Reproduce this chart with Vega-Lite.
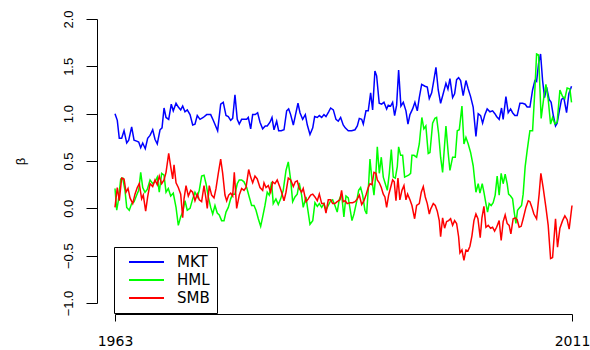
{
"$schema": "https://vega.github.io/schema/vega-lite/v6.json",
"autosize": "none",
"width": 457,
"height": 284,
"padding": {"left": 115, "top": 19, "right": 18, "bottom": 47},
"background": "white",
"config": {"view": {"stroke": null}},
"datasets": {
"MKT": [[1963.00,1.00],[1963.24,0.93],[1963.45,0.74],[1963.70,0.74],[1963.95,0.82],[1964.23,0.69],[1964.44,0.72],[1964.75,0.86],[1965.00,0.72],[1965.28,0.71],[1965.49,0.70],[1965.70,0.64],[1965.91,0.69],[1966.18,0.63],[1966.43,0.74],[1966.68,0.77],[1966.96,0.83],[1967.20,0.73],[1967.44,0.68],[1967.73,0.83],[1967.94,0.85],[1968.15,1.06],[1968.36,0.96],[1968.64,0.94],[1968.91,1.10],[1969.12,1.03],[1969.41,1.11],[1969.65,1.07],[1969.90,1.04],[1970.11,1.08],[1970.35,1.02],[1970.59,1.04],[1970.88,0.99],[1971.16,0.88],[1971.40,0.89],[1971.64,0.98],[1971.93,0.94],[1972.27,0.96],[1972.63,0.99],[1973.05,0.99],[1973.32,0.93],[1973.78,0.82],[1974.10,1.10],[1974.37,1.12],[1974.66,0.98],[1974.90,0.97],[1975.15,0.93],[1975.36,0.95],[1975.60,1.20],[1975.84,0.94],[1976.05,0.89],[1976.30,0.94],[1976.55,0.94],[1976.83,0.94],[1977.00,0.96],[1977.25,0.84],[1977.46,0.99],[1977.73,0.99],[1977.98,1.01],[1978.23,0.91],[1978.51,0.84],[1978.78,0.87],[1978.99,0.87],[1979.28,0.91],[1979.49,0.96],[1979.70,0.83],[1979.98,0.92],[1980.19,0.82],[1980.46,0.82],[1980.75,0.83],[1981.03,1.03],[1981.24,1.05],[1981.45,0.99],[1981.73,0.88],[1981.94,0.98],[1982.22,1.11],[1982.43,1.01],[1982.71,0.94],[1982.99,0.99],[1983.20,0.88],[1983.48,0.78],[1983.77,0.85],[1983.97,0.97],[1984.25,0.96],[1984.46,0.98],[1984.71,0.96],[1984.95,0.99],[1985.16,0.97],[1985.44,1.02],[1985.65,1.06],[1985.93,1.04],[1986.21,0.94],[1986.45,0.92],[1986.70,0.96],[1986.97,0.88],[1987.18,0.85],[1987.50,0.82],[1987.86,0.82],[1988.21,0.83],[1988.45,0.87],[1988.66,0.95],[1988.91,0.94],[1989.08,0.89],[1989.36,1.03],[1989.60,1.03],[1989.85,1.22],[1990.06,1.04],[1990.30,1.45],[1990.48,1.40],[1990.75,1.11],[1991.00,1.10],[1991.25,1.12],[1991.53,1.05],[1991.70,1.09],[1991.95,1.08],[1992.16,1.12],[1992.37,0.98],[1992.58,1.09],[1992.79,1.46],[1993.03,1.08],[1993.28,1.12],[1993.56,1.03],[1993.77,0.89],[1993.98,0.99],[1994.26,1.05],[1994.50,1.12],[1994.75,1.03],[1994.96,1.17],[1995.21,1.31],[1995.56,1.29],[1995.80,1.28],[1996.01,1.16],[1996.26,1.22],[1996.50,1.36],[1996.71,1.49],[1996.95,1.25],[1997.20,1.11],[1997.47,1.21],[1997.76,1.32],[1997.97,1.26],[1998.18,1.37],[1998.46,1.17],[1998.67,1.21],[1998.88,1.36],[1999.09,1.38],[1999.30,1.35],[1999.57,1.19],[1999.86,1.35],[2000.10,1.26],[2000.35,1.18],[2000.62,1.07],[2000.91,0.76],[2001.15,1.00],[2001.40,0.98],[2001.61,0.90],[2001.85,0.99],[2002.09,1.05],[2002.38,1.02],[2002.66,1.03],[2002.90,1.00],[2003.08,0.97],[2003.35,0.94],[2003.60,1.06],[2003.77,0.94],[2004.06,1.18],[2004.30,1.01],[2004.55,1.05],[2004.76,1.01],[2005.00,0.98],[2005.24,0.98],[2005.53,1.11],[2005.81,1.11],[2006.08,1.10],[2006.29,1.07],[2006.58,1.07],[2006.86,1.25],[2007.10,1.35],[2007.28,1.34],[2007.49,1.53],[2007.70,1.63],[2007.91,1.35],[2008.12,1.17],[2008.33,1.28],[2008.60,1.15],[2008.81,1.12],[2009.02,0.99],[2009.27,0.87],[2009.44,0.90],[2009.65,1.02],[2009.90,1.15],[2010.14,1.17],[2010.43,1.01],[2010.67,1.21],[2010.95,1.29]],
"HML": [[1963.00,0.21],[1963.18,-0.02],[1963.35,0.08],[1963.60,0.31],[1963.81,0.32],[1964.05,0.19],[1964.23,0.01],[1964.50,-0.02],[1964.75,0.05],[1965.00,0.07],[1965.28,0.14],[1965.49,0.19],[1965.70,0.38],[1965.91,0.22],[1966.15,0.17],[1966.39,0.20],[1966.68,0.30],[1966.96,0.26],[1967.20,0.28],[1967.44,0.33],[1967.65,0.17],[1967.90,0.37],[1968.15,0.35],[1968.36,0.17],[1968.60,0.21],[1968.85,0.13],[1969.12,0.16],[1969.41,0.01],[1969.65,-0.18],[1969.90,-0.09],[1970.11,-0.04],[1970.35,0.08],[1970.59,-0.02],[1970.88,0.00],[1971.16,0.10],[1971.40,0.17],[1971.64,0.12],[1971.85,0.19],[1972.10,0.34],[1972.35,0.35],[1972.56,0.26],[1972.80,0.12],[1973.05,0.01],[1973.26,-0.06],[1973.50,0.03],[1973.74,-0.05],[1973.95,-0.07],[1974.20,-0.13],[1974.45,-0.13],[1974.66,-0.04],[1974.90,0.01],[1975.15,0.10],[1975.36,0.15],[1975.60,0.15],[1975.84,0.26],[1976.05,0.30],[1976.30,0.30],[1976.55,0.28],[1976.83,0.22],[1977.10,0.12],[1977.35,0.03],[1977.60,0.03],[1977.81,-0.02],[1978.05,-0.11],[1978.30,-0.19],[1978.51,-0.09],[1978.75,0.03],[1978.99,0.17],[1979.20,0.14],[1979.45,0.28],[1979.62,0.05],[1979.90,0.10],[1980.15,0.04],[1980.40,0.10],[1980.67,0.19],[1980.96,0.40],[1981.20,0.49],[1981.45,0.30],[1981.66,0.07],[1981.90,0.12],[1982.14,0.15],[1982.35,0.27],[1982.60,0.14],[1982.77,0.01],[1983.06,0.12],[1983.23,0.00],[1983.48,-0.17],[1983.77,-0.13],[1984.00,0.06],[1984.25,0.02],[1984.46,0.05],[1984.71,0.01],[1984.95,0.05],[1985.16,-0.02],[1985.40,0.03],[1985.65,0.08],[1985.86,0.09],[1986.10,0.03],[1986.34,-0.04],[1986.55,0.09],[1986.80,0.15],[1987.04,-0.09],[1987.26,0.13],[1987.50,0.11],[1987.68,0.00],[1987.89,-0.13],[1988.10,-0.06],[1988.38,0.07],[1988.59,0.19],[1988.80,0.22],[1989.01,0.14],[1989.25,-0.02],[1989.43,-0.06],[1989.64,0.26],[1989.78,0.52],[1989.99,0.30],[1990.20,0.14],[1990.41,0.38],[1990.55,0.65],[1990.76,0.37],[1990.97,0.54],[1991.18,0.33],[1991.39,0.26],[1991.60,0.19],[1991.81,0.37],[1992.02,0.62],[1992.23,0.33],[1992.44,0.32],[1992.65,0.44],[1992.79,0.65],[1993.00,0.56],[1993.21,0.56],[1993.42,0.33],[1993.63,0.34],[1993.84,0.35],[1994.05,0.37],[1994.19,0.56],[1994.40,0.56],[1994.68,0.54],[1994.96,0.68],[1995.23,0.96],[1995.44,0.84],[1995.65,0.87],[1995.90,0.58],[1996.08,0.59],[1996.36,0.90],[1996.60,0.95],[1996.78,0.96],[1996.99,0.79],[1997.20,0.54],[1997.41,0.38],[1997.76,0.87],[1998.00,0.58],[1998.18,0.40],[1998.46,0.54],[1998.74,0.54],[1998.95,0.82],[1999.16,0.83],[1999.44,1.08],[1999.65,0.68],[1999.86,0.75],[2000.10,0.68],[2000.35,0.59],[2000.62,0.45],[2000.91,0.17],[2001.15,0.26],[2001.33,0.16],[2001.57,0.26],[2001.75,0.17],[2001.96,0.05],[2002.13,-0.04],[2002.30,0.05],[2002.51,0.03],[2002.72,0.06],[2002.93,0.14],[2003.14,0.34],[2003.35,0.14],[2003.56,0.37],[2003.77,0.26],[2003.98,0.36],[2004.19,0.26],[2004.34,0.15],[2004.55,0.13],[2004.76,0.10],[2004.93,-0.04],[2005.11,-0.16],[2005.28,-0.02],[2005.45,0.00],[2005.70,0.03],[2005.87,0.15],[2006.08,0.44],[2006.29,0.61],[2006.44,0.72],[2006.58,0.82],[2006.86,0.82],[2007.10,1.25],[2007.28,1.63],[2007.49,1.62],[2007.76,0.95],[2008.05,1.18],[2008.26,1.31],[2008.50,1.15],[2008.75,0.89],[2008.96,0.96],[2009.20,0.89],[2009.44,0.91],[2009.73,1.25],[2010.01,1.18],[2010.25,1.16],[2010.49,1.27],[2010.78,1.26],[2010.95,1.12]],
"SMB": [[1963.00,0.01],[1963.24,0.22],[1963.45,0.08],[1963.70,0.32],[1963.95,0.31],[1964.16,0.17],[1964.37,0.21],[1964.58,0.11],[1964.86,0.05],[1965.10,0.15],[1965.34,0.22],[1965.55,0.26],[1965.80,0.10],[1965.97,0.14],[1966.22,-0.03],[1966.43,0.12],[1966.68,0.26],[1966.96,0.23],[1967.20,0.30],[1967.44,0.25],[1967.65,0.34],[1967.90,0.26],[1968.15,0.30],[1968.36,0.38],[1968.64,0.58],[1968.85,0.44],[1969.06,0.31],[1969.20,0.46],[1969.41,0.27],[1969.65,0.22],[1969.90,0.15],[1970.11,-0.10],[1970.25,0.10],[1970.46,0.24],[1970.70,0.13],[1970.95,0.19],[1971.16,0.17],[1971.40,0.08],[1971.64,0.15],[1971.85,0.09],[1972.10,0.07],[1972.35,0.24],[1972.56,0.10],[1972.69,0.00],[1972.90,0.24],[1973.15,0.14],[1973.40,0.11],[1973.61,0.21],[1973.85,0.37],[1974.10,0.52],[1974.31,0.37],[1974.55,0.14],[1974.73,0.08],[1974.94,0.14],[1975.15,0.16],[1975.36,0.13],[1975.53,0.38],[1975.78,0.00],[1976.05,0.14],[1976.30,0.21],[1976.55,0.19],[1976.76,0.22],[1977.04,0.41],[1977.25,0.33],[1977.46,0.27],[1977.70,0.34],[1977.94,0.31],[1978.23,0.22],[1978.51,0.19],[1978.65,0.27],[1978.86,0.22],[1979.10,0.24],[1979.35,0.17],[1979.56,0.28],[1979.80,0.26],[1980.04,0.30],[1980.33,0.22],[1980.50,0.17],[1980.75,0.08],[1980.96,0.17],[1981.20,0.32],[1981.45,0.30],[1981.73,0.23],[1981.94,0.28],[1982.14,0.29],[1982.35,0.21],[1982.60,0.17],[1982.77,0.21],[1983.06,0.07],[1983.30,0.10],[1983.55,0.14],[1983.77,0.15],[1984.00,0.12],[1984.25,0.08],[1984.46,0.15],[1984.71,0.05],[1984.95,0.05],[1985.16,-0.05],[1985.40,0.09],[1985.65,0.09],[1985.86,0.05],[1986.10,0.05],[1986.34,0.07],[1986.63,0.09],[1986.80,0.19],[1986.97,0.07],[1987.18,0.08],[1987.39,0.05],[1987.68,0.06],[1987.96,0.06],[1988.21,0.07],[1988.45,0.10],[1988.66,0.14],[1988.91,0.04],[1989.15,0.08],[1989.36,0.14],[1989.60,0.22],[1989.78,0.26],[1989.99,0.25],[1990.20,0.38],[1990.41,0.37],[1990.55,0.30],[1990.76,0.27],[1990.97,0.22],[1991.18,0.15],[1991.35,0.12],[1991.53,0.01],[1991.74,0.14],[1991.95,0.22],[1992.16,0.30],[1992.33,0.28],[1992.51,0.08],[1992.72,0.32],[1992.92,0.09],[1993.14,0.19],[1993.35,0.24],[1993.56,0.09],[1993.73,0.15],[1993.98,0.09],[1994.19,0.03],[1994.47,-0.11],[1994.68,0.03],[1994.96,0.05],[1995.17,0.17],[1995.38,0.23],[1995.59,0.12],[1995.80,0.05],[1996.01,-0.06],[1996.15,-0.01],[1996.43,0.05],[1996.64,0.03],[1996.85,-0.03],[1997.06,-0.13],[1997.20,-0.30],[1997.41,-0.10],[1997.62,-0.21],[1997.83,-0.14],[1998.04,-0.13],[1998.25,-0.11],[1998.46,-0.18],[1998.67,-0.13],[1998.88,-0.16],[1999.09,-0.30],[1999.23,-0.47],[1999.44,-0.44],[1999.65,-0.55],[1999.86,-0.44],[2000.07,-0.45],[2000.28,-0.40],[2000.49,-0.29],[2000.70,-0.13],[2000.91,-0.06],[2001.12,-0.11],[2001.36,-0.31],[2001.54,-0.10],[2001.75,0.02],[2001.96,-0.20],[2002.20,-0.18],[2002.45,-0.21],[2002.66,-0.20],[2002.87,-0.24],[2003.08,-0.20],[2003.35,-0.13],[2003.56,-0.34],[2003.77,-0.14],[2003.98,-0.07],[2004.19,-0.16],[2004.40,-0.18],[2004.58,-0.27],[2004.82,-0.11],[2005.03,-0.10],[2005.24,-0.12],[2005.45,-0.20],[2005.66,-0.19],[2005.87,-0.11],[2006.16,0.01],[2006.40,0.08],[2006.58,0.07],[2006.79,0.01],[2007.00,-0.06],[2007.28,-0.11],[2007.55,0.15],[2007.73,0.37],[2007.97,0.22],[2008.26,0.01],[2008.50,-0.18],[2008.75,-0.53],[2008.96,-0.52],[2009.17,-0.24],[2009.27,-0.11],[2009.48,-0.41],[2009.73,-0.21],[2010.01,-0.13],[2010.25,-0.08],[2010.49,-0.12],[2010.70,-0.22],[2011.00,0.03]]
},
"data": {"values": []},
"layer": [
{"data": {"name": "MKT"}, "transform": [{"calculate": "'MKT'", "as": "series"}, {"calculate": "datum[0]", "as": "year"}, {"calculate": "datum[1]", "as": "beta"}], "mark": {"type": "line", "strokeWidth": 1.5}, "encoding": {}},
{"data": {"name": "HML"}, "transform": [{"calculate": "'HML'", "as": "series"}, {"calculate": "datum[0]", "as": "year"}, {"calculate": "datum[1]", "as": "beta"}], "mark": {"type": "line", "strokeWidth": 1.5}, "encoding": {}},
{"data": {"name": "SMB"}, "transform": [{"calculate": "'SMB'", "as": "series"}, {"calculate": "datum[0]", "as": "year"}, {"calculate": "datum[1]", "as": "beta"}], "mark": {"type": "line", "strokeWidth": 1.5}, "encoding": {}}
],
"encoding": {
"x": {"field": "year", "type": "quantitative", "scale": {"domain": [1963, 2011], "nice": false, "zero": false},
 "axis": {"title": null, "values": [1963, 2011], "format": "d", "grid": false, "offset": 11, "tickSize": 7, "domainColor": "black", "tickColor": "black", "labelColor": "black", "labelFont": "DejaVu Sans", "labelFontSize": 14, "labelPadding": 13, "labelBaseline": "top", "labelOverlap": false, "labelFlush": false, "labelBound": false}},
"y": {"field": "beta", "type": "quantitative", "scale": {"domain": [-1, 2], "nice": false, "zero": false},
 "axis": {"title": "β", "values": [-1, -0.5, 0, 0.5, 1, 1.5, 2], "format": ".1f", "grid": false, "offset": 18, "tickSize": 11, "domainColor": "black", "tickColor": "black", "labelColor": "black", "labelFont": "Liberation Sans", "labelFontSize": 13, "labelAngle": -90, "labelAlign": "center", "labelBaseline": "alphabetic", "labelPadding": 14, "labelOverlap": false, "labelFlush": false, "labelBound": false, "titleFont": "Liberation Sans", "titleFontSize": 13, "titleFontWeight": "normal", "titleColor": "black", "titleX": -77, "titleY": 142, "titleAlign": "center", "titleBaseline": "middle", "titleAngle": -90}},
"color": {"field": "series", "type": "nominal", "scale": {"domain": ["MKT", "HML", "SMB"], "range": ["#0000FF", "#00FF00", "#FF0000"]},
 "legend": {"title": null, "orient": "none", "legendX": -1, "legendY": 228, "strokeColor": "black", "fillColor": "white", "padding": 7, "symbolType": "M0,0H5", "symbolSize": 196, "symbolStrokeWidth": 2, "labelFont": "DejaVu Sans", "labelFontSize": 15, "labelColor": "black", "labelOffset": 40, "rowPadding": 2}}
}
}
